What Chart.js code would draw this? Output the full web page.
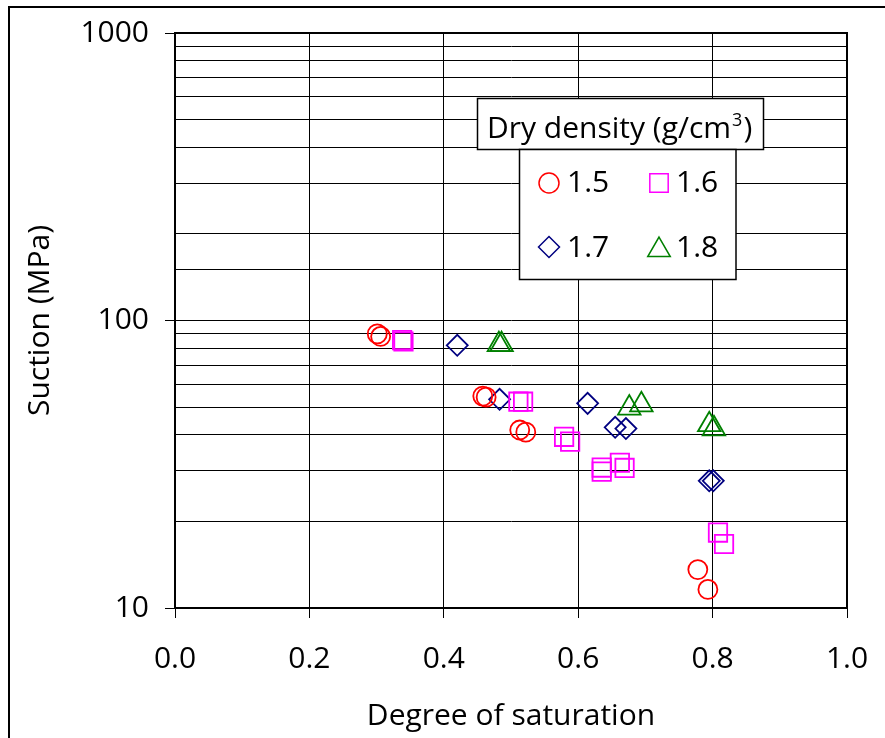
<!DOCTYPE html>
<html>
<head>
<meta charset="utf-8">
<script src="https://cdn.jsdelivr.net/npm/chart.js@4.4.1/dist/chart.umd.min.js"></script>
<style>
    html, body { margin: 0; padding: 0; background: #fff; }
    #wrap { width: 885px; height: 738px; position: relative; }
</style>
</head>
<body>
<div id="wrap"><canvas id="suction-chart" width="885" height="738"></canvas></div>
<script>
// values
const satD15 = [0.301, 0.306, 0.458, 0.463, 0.513, 0.522, 0.778, 0.793];
const sucD15 = [89.8, 88.0, 54.6, 54.1, 41.6, 40.9, 13.6, 11.6];

const satD16 = [0.338, 0.340, 0.511, 0.518, 0.579, 0.588, 0.635, 0.635, 0.662, 0.669, 0.808, 0.817];
const sucD16 = [85.5, 84.5, 52.2, 52.2, 39.4, 37.9, 30.8, 29.8, 32.0, 30.7, 18.3, 16.7];

const satD17 = [0.420, 0.483, 0.614, 0.655, 0.671, 0.795, 0.801];
const sucD17 = [82.0, 53.2, 51.5, 42.5, 42.1, 27.7, 27.7];

const satD18 = [0.482, 0.486, 0.676, 0.694, 0.795, 0.802];
const sucD18 = [82.4, 82.4, 49.6, 50.9, 43.4, 42.0];

const densityLabels = ['1.5', '1.6', '1.7', '1.8'];
const xTicks = [0, 0.2, 0.4, 0.6, 0.8, 1.0];
const yMajorTicks = [10, 100, 1000];

const FONT = "'Open Sans', 'Noto Sans', sans-serif";

function toPoints(xs, ys) {
    let pts = [];
    for (let i = 0; i < xs.length; i++) {
        pts.push({x: xs[i], y: ys[i]});
    }
    return pts;
}

const markers = [
    {style: 'circle', color: '#ff0000', radius: 9.5},
    {style: 'rect', color: '#ff00ff', radius: 13},
    {style: 'rectRot', color: '#000080', radius: 10.5},
    {style: 'triangle', color: '#008000', radius: 13},
];

const seriesData = [
    toPoints(satD15, sucD15),
    toPoints(satD16, sucD16),
    toPoints(satD17, sucD17),
    toPoints(satD18, sucD18),
];

const datasets = seriesData.map((pts, i) => ({
    label: densityLabels[i],
    data: pts,
    pointStyle: markers[i].style,
    pointRadius: markers[i].radius,
    pointHoverRadius: markers[i].radius,
    pointBorderWidth: 1.8,
    pointBorderColor: markers[i].color,
    pointBackgroundColor: 'rgba(0,0,0,0)',
    showLine: false,
}));

// outer frame + plot box
const framePlugin = {
    id: 'frame',
    beforeDraw(chart) {
        const ctx = chart.ctx;
        ctx.save();
        ctx.fillStyle = '#fff';
        ctx.fillRect(0, 0, chart.width, chart.height);
        ctx.strokeStyle = '#000';
        ctx.lineWidth = 2;
        ctx.beginPath();
        ctx.moveTo(9, chart.height + 5);
        ctx.lineTo(9, 7);
        ctx.lineTo(chart.width + 5, 7);
        ctx.stroke();
        ctx.restore();
    },
    afterDraw(chart) {
        const a = chart.chartArea;
        const ctx = chart.ctx;
        ctx.save();
        ctx.strokeStyle = '#000';
        ctx.lineWidth = 2;
        ctx.strokeRect(a.left, a.top, a.right - a.left, a.bottom - a.top);
        ctx.restore();
    }
};

// boxed legend: title box on top, 2x2 entries below
const legendPlugin = {
    id: 'boxLegend',
    afterDatasetsDraw(chart) {
        const ctx = chart.ctx;
        ctx.save();
        ctx.lineWidth = 1.5;
        ctx.strokeStyle = '#000';
        ctx.fillStyle = '#fff';
        ctx.fillRect(477, 98, 286, 51);
        ctx.strokeRect(477.5, 98.5, 286, 51);
        ctx.fillRect(519, 149.5, 217, 130);
        ctx.strokeRect(519.5, 149.5, 216.5, 130);

        ctx.fillStyle = '#000';
        ctx.textBaseline = 'alphabetic';
        ctx.textAlign = 'left';
        ctx.font = '30px ' + FONT;
        const title = 'Dry density (g/cm';
        ctx.fillText(title, 487, 138);
        let w = ctx.measureText(title).width;
        ctx.font = '18px ' + FONT;
        ctx.fillText('3', 487 + w + 1, 126);
        let w3 = ctx.measureText('3').width;
        ctx.font = '30px ' + FONT;
        ctx.fillText(')', 487 + w + w3 + 2, 138);

        const cells = [
            {mx: 549, my: 183, tx: 567, ty: 192},
            {mx: 659, my: 183, tx: 676, ty: 192},
            {mx: 549, my: 247, tx: 567, ty: 257},
            {mx: 659, my: 250, tx: 676, ty: 257},
        ];
        const legendRadius = [10, 13, 10.5, 13];
        for (let i = 0; i < cells.length; i++) {
            const c = cells[i];
            ctx.strokeStyle = markers[i].color;
            ctx.fillStyle = 'rgba(0,0,0,0)';
            Chart.helpers.drawPoint(ctx, {
                pointStyle: markers[i].style,
                radius: legendRadius[i],
                rotation: 0,
                borderWidth: 1.8,
            }, c.mx, c.my);
            ctx.fillStyle = '#000';
            ctx.font = '30px ' + FONT;
            ctx.fillText(densityLabels[i], c.tx, c.ty);
        }
        ctx.restore();
    }
};

new Chart(document.getElementById('suction-chart'), {
    type: 'scatter',
    data: {datasets: datasets},
    plugins: [framePlugin, legendPlugin],
    options: {
        responsive: false,
        animation: false,
        events: [],
        layout: {padding: {top: 33, right: 38, left: 0, bottom: 0}},
        plugins: {
            legend: {display: false},
            tooltip: {enabled: false},
        },
        scales: {
            x: {
                type: 'linear',
                min: 0,
                max: 1,
                afterBuildTicks(scale) {
                    scale.ticks = xTicks.map(v => ({value: v}));
                },
                afterFit(scale) {
                    scale.height = 130;
                    scale.paddingLeft = 0;
                    scale.paddingRight = 0;
                },
                ticks: {
                    color: '#000',
                    font: {family: FONT, size: 30},
                    padding: 23,
                    maxRotation: 0,
                    autoSkip: false,
                    callback: (v) => Number(v).toFixed(1),
                },
                grid: {
                    color: '#000',
                    lineWidth: 1,
                    tickLength: 10,
                    tickColor: '#000',
                },
                border: {color: '#000', width: 2},
                title: {
                    display: true,
                    text: 'Degree of saturation',
                    color: '#000',
                    font: {family: FONT, size: 30},
                    padding: {top: 0, bottom: 4},
                },
            },
            y: {
                type: 'logarithmic',
                min: 10,
                max: 1000,
                afterFit(scale) {
                    scale.width = 175;
                    scale.paddingTop = 0;
                    scale.paddingBottom = 0;
                },
                ticks: {
                    color: '#000',
                    font: {family: FONT, size: 30},
                    padding: 16,
                    autoSkip: false,
                    callback: (v) => yMajorTicks.includes(v) ? String(v) : '',
                },
                grid: {
                    color: '#000',
                    lineWidth: 1,
                    tickLength: 10,
                    tickColor: (ctx) => (ctx.tick && yMajorTicks.includes(ctx.tick.value)) ? '#000' : 'rgba(0,0,0,0)',
                },
                border: {color: '#000', width: 2},
                title: {
                    display: true,
                    text: 'Suction (MPa)',
                    color: '#000',
                    font: {family: FONT, size: 30},
                    padding: {top: 22, bottom: 0},
                },
            },
        },
    },
});
</script>
</body>
</html>
